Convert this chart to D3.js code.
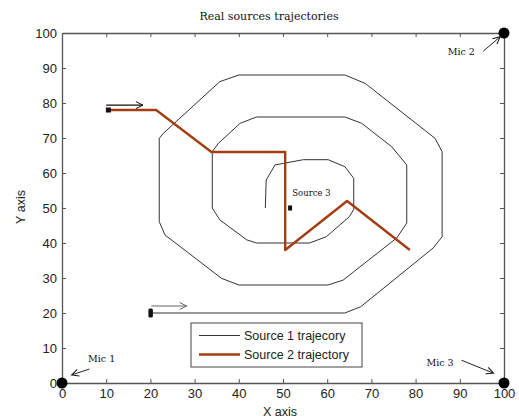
<!DOCTYPE html>
<html>
<head>
<meta charset="utf-8">
<script src="https://cdn.jsdelivr.net/npm/d3@7"></script>
<style>
	body { margin: 0; background: #fff; }
	svg { display: block; }
</style>
</head>
<body>
<div id="chart"></div>
<script>
	'use strict';

	// source 1 : spiral, drawn as a thin black line
	var src1X = [20, 64, 67.6, 84, 86, 86, 84.4, 68.6, 64, 40, 35.7, 22.9, 22, 22, 23.3, 36.1, 40, 60.2, 63.6, 75.7, 78, 78, 74.6, 67.8, 64, 44, 40.3, 35.4, 34, 34, 35.7, 41.8, 44, 56, 59.8, 65, 66, 66, 64, 60.2, 54.6, 48.2, 46.2, 46];
	var src1Y = [20, 20, 21.8, 38.6, 41.8, 66.1, 69.9, 85.6, 88, 88, 86.1, 71.3, 69.9, 46.1, 42.3, 29.9, 28, 28, 29.4, 41.4, 45.7, 62.3, 67.5, 74.2, 76, 76, 74.2, 68.5, 66.1, 50, 46.6, 40.9, 40, 40, 41.8, 47.5, 49.6, 58.5, 61.8, 63.8, 63.8, 62.3, 58, 50];

	// source 2 : broken line, thick brown
	var src2X = [10.5, 21.3, 33.8, 50.5, 50.5, 64.5, 78.7];
	var src2Y = [78, 78, 66, 66, 38, 52, 38];

	// microphones
	var micX = [0, 100, 100];
	var micY = [0, 100, 0];
	var micLabels = ['Mic 1', 'Mic 2', 'Mic 3'];

	var xTicks = [0, 10, 20, 30, 40, 50, 60, 70, 80, 90, 100];
	var yTicks = [0, 10, 20, 30, 40, 50, 60, 70, 80, 90, 100];

	var legendLabels = ['Source 1 trajecory', 'Source 2 trajectory'];

	var W = 519, H = 419;
	var LEFT = 62, RIGHT = 504, TOP = 33, BOTTOM = 383;
	var AXIS_COLOR = '#555';
	var SRC1_COLOR = '#333';
	var SRC2_COLOR = '#a43e12';
	var SANS = 'Arial, "Liberation Sans", sans-serif';
	var SERIF = '"DejaVu Serif", serif';

	var svg = d3.select('#chart').append('svg')
		.attr('width', W)
		.attr('height', H)
		.style('background', '#fff');

	var x = d3.scaleLinear().domain([0, 100]).range([LEFT, RIGHT]);
	var y = d3.scaleLinear().domain([0, 100]).range([BOTTOM, TOP]);

	var defs = svg.append('defs');
	function arrowMarker(id, color) {
		defs.append('marker')
			.attr('id', id)
			.attr('viewBox', '-8 -5 10 10')
			.attr('refX', 0)
			.attr('refY', 0)
			.attr('markerWidth', 10)
			.attr('markerHeight', 10)
			.attr('markerUnits', 'userSpaceOnUse')
			.attr('orient', 'auto')
			.append('path')
			.attr('d', 'M-7,-3.5L0,0L-7,3.5')
			.attr('fill', 'none')
			.attr('stroke', color)
			.attr('stroke-width', 1);
	}
	arrowMarker('arrBlack', '#111');
	arrowMarker('arrGray', '#666');

	// axes, ticks pointing inside like matlab
	function styleAxis(g) {
		g.selectAll('path.domain').attr('stroke', AXIS_COLOR).attr('stroke-width', 1.3);
		g.selectAll('.tick line').attr('stroke', AXIS_COLOR).attr('stroke-width', 1);
		g.selectAll('.tick text')
			.attr('fill', '#222')
			.style('font-family', SANS)
			.style('font-size', '13px');
	}

	svg.append('g')
		.attr('transform', 'translate(0,' + BOTTOM + ')')
		.call(d3.axisBottom(x).tickValues(xTicks).tickSize(-4).tickSizeOuter(0).tickPadding(6))
		.call(styleAxis);

	svg.append('g')
		.attr('transform', 'translate(' + LEFT + ',0)')
		.call(d3.axisLeft(y).tickValues(yTicks).tickSize(-4).tickSizeOuter(0).tickPadding(5))
		.call(styleAxis);

	svg.append('g')
		.attr('transform', 'translate(0,' + TOP + ')')
		.call(d3.axisTop(x).tickValues(xTicks).tickSize(-4).tickSizeOuter(0).tickFormat(''))
		.call(styleAxis);

	svg.append('g')
		.attr('transform', 'translate(' + RIGHT + ',0)')
		.call(d3.axisRight(y).tickValues(yTicks).tickSize(-4).tickSizeOuter(0).tickFormat(''))
		.call(styleAxis);

	// titles
	svg.append('text')
		.attr('x', 269)
		.attr('y', 20)
		.attr('text-anchor', 'middle')
		.style('font-family', SERIF)
		.style('font-size', '11px')
		.attr('fill', '#111')
		.text('Real sources trajectories');

	svg.append('text')
		.attr('x', 280)
		.attr('y', 416)
		.attr('text-anchor', 'middle')
		.style('font-family', SANS)
		.style('font-size', '12.5px')
		.attr('fill', '#222')
		.text('X axis');

	svg.append('text')
		.attr('transform', 'translate(25,207) rotate(-90)')
		.attr('text-anchor', 'middle')
		.style('font-family', SANS)
		.style('font-size', '12.5px')
		.attr('fill', '#222')
		.text('Y axis');

	var line = d3.line()
		.x(function(d) { return x(d[0]); })
		.y(function(d) { return y(d[1]); });

	svg.append('path')
		.datum(d3.zip(src1X, src1Y))
		.attr('d', line)
		.attr('fill', 'none')
		.attr('stroke', SRC1_COLOR)
		.attr('stroke-width', 1);

	svg.append('path')
		.datum(d3.zip(src2X, src2Y))
		.attr('d', line)
		.attr('fill', 'none')
		.attr('stroke', SRC2_COLOR)
		.attr('stroke-width', 2.4)
		.attr('stroke-linejoin', 'round');

	// start markers
	svg.append('rect')
		.attr('x', x(src2X[0]) - 2.5)
		.attr('y', y(src2Y[0]) - 2.5)
		.attr('width', 5)
		.attr('height', 5)
		.attr('fill', '#111');

	svg.append('rect')
		.attr('x', x(src1X[0]) - 2)
		.attr('y', y(src1Y[0]) - 4.5)
		.attr('width', 4.5)
		.attr('height', 9)
		.attr('rx', 1.5)
		.attr('fill', '#111');

	// direction arrows
	svg.append('line')
		.attr('x1', x(10)).attr('y1', y(79.4))
		.attr('x2', x(18.3)).attr('y2', y(79.4))
		.attr('stroke', '#111')
		.attr('stroke-width', 1.2)
		.attr('marker-end', 'url(#arrBlack)');

	svg.append('line')
		.attr('x1', x(20.2)).attr('y1', y(22))
		.attr('x2', x(28.2)).attr('y2', y(22))
		.attr('stroke', '#666')
		.attr('stroke-width', 1.2)
		.attr('marker-end', 'url(#arrGray)');

	// source 3
	svg.append('rect')
		.attr('x', x(51.6) - 2)
		.attr('y', y(50) - 2.5)
		.attr('width', 4)
		.attr('height', 5)
		.attr('fill', '#111');

	svg.append('text')
		.attr('x', x(52.1))
		.attr('y', y(53.3))
		.style('font-family', SERIF)
		.style('font-size', '8.5px')
		.attr('fill', '#111')
		.text('Source 3');

	// microphones
	svg.selectAll('circle.mic')
		.data(d3.zip(micX, micY))
		.enter().append('circle')
		.attr('class', 'mic')
		.attr('cx', function(d) { return x(d[0]); })
		.attr('cy', function(d) { return y(d[1]); })
		.attr('r', 5.5)
		.attr('fill', '#000');

	// label anchor, arrow start and arrow end for each mic (data units)
	var micNotes = [
		{ tx: 5.9, ty: 6, anchor: 'start', a: [6.2, 4], b: [2.2, 2.3] },
		{ tx: 93.4, ty: 93.6, anchor: 'end', a: [95.3, 94.8], b: [99.1, 98.9] },
		{ tx: 88.6, ty: 5, anchor: 'end', a: [90.4, 6.5], b: [97.6, 2.8] }
	];

	micNotes.forEach(function(n, i) {
		svg.append('text')
			.attr('x', x(n.tx))
			.attr('y', y(n.ty))
			.attr('text-anchor', n.anchor)
			.style('font-family', SERIF)
			.style('font-size', '9.5px')
			.attr('fill', '#111')
			.text(micLabels[i]);
		svg.append('line')
			.attr('x1', x(n.a[0])).attr('y1', y(n.a[1]))
			.attr('x2', x(n.b[0])).attr('y2', y(n.b[1]))
			.attr('stroke', '#222')
			.attr('stroke-width', 1)
			.attr('marker-end', 'url(#arrBlack)');
	});

	// legend
	var legend = svg.append('g').attr('transform', 'translate(191,323)');
	legend.append('rect')
		.attr('width', 171)
		.attr('height', 44)
		.attr('fill', '#fff')
		.attr('stroke', '#444')
		.attr('stroke-width', 1);

	var legendColors = [SRC1_COLOR, SRC2_COLOR];
	var legendWidths = [1, 2.4];
	legendLabels.forEach(function(lbl, i) {
		var ly = 12.5 + i * 19;
		legend.append('line')
			.attr('x1', 8).attr('x2', 49)
			.attr('y1', ly).attr('y2', ly)
			.attr('stroke', legendColors[i])
			.attr('stroke-width', legendWidths[i]);
		legend.append('text')
			.attr('x', 53)
			.attr('y', ly + 4.5)
			.style('font-family', SANS)
			.style('font-size', '12.5px')
			.attr('fill', '#222')
			.text(lbl);
	});
</script>
</body>
</html>
